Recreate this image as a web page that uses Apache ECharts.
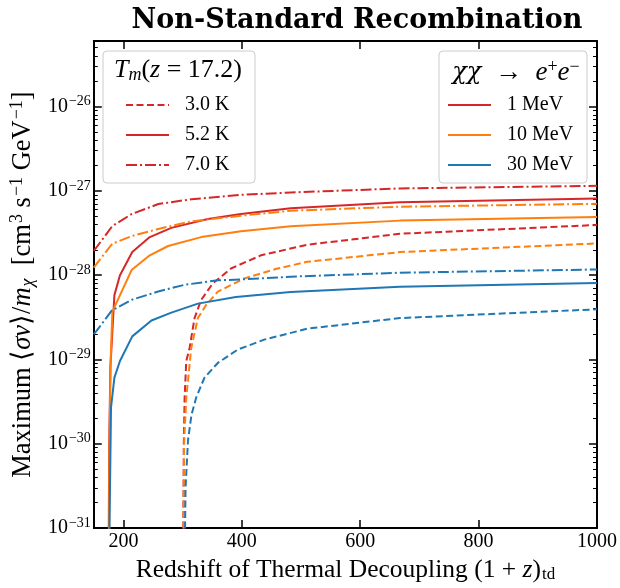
<!DOCTYPE html>
<html>
<head>
<meta charset="utf-8">
<script src="https://cdn.jsdelivr.net/npm/echarts@6/dist/echarts.min.js"></script>
<style>
  html, body { margin: 0; padding: 0; background: #ffffff; }
  #chart { width: 620px; height: 588px; }
</style>
</head>
<body>
<div id="chart"></div>
<script>
// Redshift of thermal decoupling (1+z)_td vs. maximum <sigma v>/m_chi for chi chi -> e+ e-
// Three DM masses (colour) x three gas temperatures T_m(z=17.2) (line style).

// ---- 1 MeV ----
const z_1MeV_3K  = [300.5, 302, 303.4, 306.2, 311.8, 320.2, 331.4, 351.1, 381.8, 432.2, 510.7, 667, 1000];
const sv_1MeV_3K = [1e-32, 1e-30, 3.5e-30, 9.6e-30, 1.37e-29, 3.1e-29, 5.1e-29, 8.0e-29, 1.2e-28, 1.72e-28, 2.3e-28, 3.1e-28, 3.94e-28];
const z_1MeV_5K  = [174.6, 176, 178, 184.8, 194.2, 215, 244.6, 281, 342.7, 398.6, 482.6, 667, 1000];
const sv_1MeV_5K = [1e-32, 1e-30, 8e-30, 5.8e-29, 1.0e-28, 1.88e-28, 2.83e-28, 3.64e-28, 4.65e-28, 5.32e-28, 6.21e-28, 7.31e-28, 8.14e-28];
const z_1MeV_7K  = [150, 155, 181, 214, 259, 315, 399, 483, 667, 1000];
const sv_1MeV_7K = [1.95e-28, 2.16e-28, 3.81e-28, 5.32e-28, 6.98e-28, 7.97e-28, 8.97e-28, 9.58e-28, 1.07e-27, 1.15e-27];

// ---- 10 MeV ----
const z_10MeV_3K  = [300.7, 302.5, 306.2, 314.6, 325.9, 339.8, 359.5, 404.2, 460.3, 510.7, 667, 1000];
const sv_10MeV_3K = [1e-32, 1e-30, 3.5e-30, 1.37e-29, 3.1e-29, 4.44e-29, 6.38e-29, 9.14e-29, 1.2e-28, 1.44e-28, 1.88e-28, 2.38e-28];
const z_10MeV_5K  = [175.2, 176.5, 178.5, 181.4, 213.8, 244.6, 275.5, 331.4, 398.6, 482.6, 667, 1000];
const sv_10MeV_5K = [1e-32, 1e-30, 1e-29, 3.7e-29, 1.15e-28, 1.72e-28, 2.22e-28, 2.83e-28, 3.33e-28, 3.81e-28, 4.44e-28, 4.91e-28];
const z_10MeV_7K  = [150, 155, 181, 214, 259, 315, 399, 483, 667, 1000];
const sv_10MeV_7K = [1.23e-28, 1.37e-28, 2.36e-28, 2.91e-28, 3.54e-28, 4.36e-28, 5.08e-28, 5.82e-28, 6.49e-28, 7.03e-28];

// ---- 30 MeV ----
const z_30MeV_3K  = [302.4, 305, 309.1, 315, 323, 337, 359.5, 393.1, 437.8, 510.7, 667, 1000];
const sv_30MeV_3K = [1e-32, 3e-31, 1.1e-30, 2.2e-30, 3.54e-30, 6.1e-30, 9.1e-30, 1.31e-29, 1.72e-29, 2.32e-29, 3.1e-29, 3.94e-29];
const z_30MeV_5K  = [174.7, 179.1, 184.8, 194.2, 215, 247.4, 281, 325.9, 390, 482.6, 667, 1000];
const sv_30MeV_5K = [1e-32, 2.7e-30, 6.1e-30, 9.6e-30, 1.88e-29, 2.9e-29, 3.6e-29, 4.6e-29, 5.5e-29, 6.3e-29, 7.3e-29, 8.1e-29];
const z_30MeV_7K  = [150, 155, 180.2, 213.8, 258.7, 303.4, 359.5, 398.6, 482.6, 667, 1000];
const sv_30MeV_7K = [2.0e-29, 2.2e-29, 3.8e-29, 5.1e-29, 6.4e-29, 7.7e-29, 8.7e-29, 8.9e-29, 9.6e-29, 1.07e-28, 1.17e-28];

// Axis ticks (the y axis is drawn in decades: exponent of 10)
const xTicks = [200, 400, 600, 800, 1000];
const yDecades = [-31, -30, -29, -28, -27, -26];
const Y_MIN = 1e-31, Y_MAX = 6e-26;

// Legend entries
const tempLabels = ['3.0 K', '5.2 K', '7.0 K'];
const massLabels = ['1 MeV', '10 MeV', '30 MeV'];

const RED = '#d62728', ORANGE = '#ff7f0e', BLUE = '#1f77b4';
const DASHED = [7, 3.5];
const DASHDOT = [11, 3, 2, 3];
const SERIF = 'Liberation Serif';

// Log-decade y scale: values are placed at log10(value) on a linear axis.
const lg = v => Math.log10(v);
const yMinor = [];
yDecades.forEach(e => {
  for (let k = 2; k <= 9; k++) {
    const v = k * Math.pow(10, e);
    if (v <= Y_MAX) yMinor.push(lg(v));
  }
});

const toPoints = (xs, ys) => xs.map((x, i) => [x, lg(ys[i])]);

function curve(name, xs, ys, color, type) {
  return {
    name, type: 'line', data: toPoints(xs, ys),
    xAxisIndex: 0, yAxisIndex: 0,
    symbol: 'none', clip: true, silent: true,
    lineStyle: { color, width: 2, type },
    itemStyle: { color }
  };
}
function legendOnly(name, color, type) {
  return {
    name, type: 'line', data: [], symbol: 'none',
    lineStyle: { color, width: 2, type }, itemStyle: { color }
  };
}

const series = [
  curve('1 MeV, 3.0 K', z_1MeV_3K, sv_1MeV_3K, RED, DASHED),
  curve('1 MeV, 5.2 K', z_1MeV_5K, sv_1MeV_5K, RED, 'solid'),
  curve('1 MeV, 7.0 K', z_1MeV_7K, sv_1MeV_7K, RED, DASHDOT),
  curve('10 MeV, 3.0 K', z_10MeV_3K, sv_10MeV_3K, ORANGE, DASHED),
  curve('10 MeV, 5.2 K', z_10MeV_5K, sv_10MeV_5K, ORANGE, 'solid'),
  curve('10 MeV, 7.0 K', z_10MeV_7K, sv_10MeV_7K, ORANGE, DASHDOT),
  curve('30 MeV, 3.0 K', z_30MeV_3K, sv_30MeV_3K, BLUE, DASHED),
  curve('30 MeV, 5.2 K', z_30MeV_5K, sv_30MeV_5K, BLUE, 'solid'),
  curve('30 MeV, 7.0 K', z_30MeV_7K, sv_30MeV_7K, BLUE, DASHDOT),
  legendOnly(tempLabels[0], RED, DASHED),
  legendOnly(tempLabels[1], RED, 'solid'),
  legendOnly(tempLabels[2], RED, DASHDOT),
  legendOnly(massLabels[0], RED, 'solid'),
  legendOnly(massLabels[1], ORANGE, 'solid'),
  legendOnly(massLabels[2], BLUE, 'solid')
];

const frameLine = { show: true, onZero: false, lineStyle: { color: '#000', width: 2 } };

function xAxisDef(position, showLabels) {
  return {
    type: 'value', min: 150, max: 1000, position,
    axisLine: frameLine,
    axisTick: { show: true, inside: true, length: 8, customValues: xTicks, lineStyle: { color: '#000', width: 1.5 } },
    axisLabel: showLabels ? {
      show: true, customValues: xTicks, margin: 4,
      formatter: v => String(v),
      color: '#000', fontFamily: SERIF, fontSize: 20
    } : { show: false },
    splitLine: { show: false }
  };
}
function yAxisDef(position, ticks, len, showLabels, showLine) {
  return {
    type: 'value', min: lg(Y_MIN), max: lg(Y_MAX), position,
    axisLine: showLine ? frameLine : { show: false },
    axisTick: { show: true, inside: true, length: len, customValues: ticks, lineStyle: { color: '#000', width: len > 5 ? 1.5 : 1 } },
    axisLabel: showLabels ? {
      show: true, customValues: yDecades, margin: 3,
      formatter: v => '{b|10}{s|\u2212' + Math.abs(Math.round(v)) + '}',
      rich: {
        b: { fontFamily: SERIF, fontSize: 20, color: '#000' },
        s: { fontFamily: SERIF, fontSize: 14, color: '#000', padding: [0, 0, 10, 1] }
      }
    } : { show: false },
    splitLine: { show: false }
  };
}

const xName = {
  name: '{n|Redshift of Thermal Decoupling (1 + }{i|z}{n|)}{sub|td}',
  nameLocation: 'middle', nameGap: 23,
  nameTextStyle: {
    rich: {
      n: { fontFamily: SERIF, fontSize: 25.5, color: '#000' },
      i: { fontFamily: SERIF, fontSize: 25.5, fontStyle: 'italic', color: '#000' },
      sub: { fontFamily: SERIF, fontSize: 17, color: '#000', padding: [9, 0, 0, 1] }
    }
  }
};
const yName = {
  name: '{n|Maximum \u27E8}{i|\u03C3v}{n|\u27E9/}{i|m}{sub|\u03C7}{n|  [cm}{sup|3}{n| s}{sup|\u22121}{n| GeV}{sup|\u22121}{n|]}',
  nameLocation: 'middle', nameGap: 54, nameRotate: 90,
  nameTextStyle: {
    rich: {
      n: { fontFamily: SERIF, fontSize: 26.5, color: '#000' },
      i: { fontFamily: SERIF, fontSize: 26.5, fontStyle: 'italic', color: '#000' },
      sub: { fontFamily: SERIF, fontSize: 18, fontStyle: 'italic', color: '#000', padding: [10, 0, 0, 1] },
      sup: { fontFamily: SERIF, fontSize: 18, color: '#000', padding: [0, 0, 12, 1] }
    }
  }
};

const legendText = { fontFamily: SERIF, fontSize: 20, color: '#000', padding: [0, 0, 0, 11] };
const legendCommon = {
  orient: 'vertical', padding: 0,
  itemWidth: 43, itemHeight: 14, itemGap: 10, selectedMode: false,
  itemStyle: { opacity: 0, borderWidth: 0 },
  textStyle: legendText, z: 10
};

const option = {
  animation: false,
  backgroundColor: '#ffffff',
  title: {
    text: 'Non-Standard Recombination',
    left: 352, top: 2, textAlign: 'center',
    textStyle: { fontFamily: 'DejaVu Serif', fontWeight: 'bold', fontSize: 27, color: '#000' }
  },
  grid: { left: 92, right: 22, top: 41, bottom: 56, containLabel: false },
  xAxis: [
    Object.assign(xAxisDef('bottom', true), xName),
    xAxisDef('top', false)
  ],
  yAxis: [
    Object.assign(yAxisDef('left', yDecades, 8, true, true), yName),
    yAxisDef('left', yMinor, 4, false, false),
    yAxisDef('right', yDecades, 8, false, true),
    yAxisDef('right', yMinor, 4, false, false)
  ],
  legend: [
    Object.assign({ data: tempLabels, left: 125, top: 95 }, legendCommon),
    Object.assign({ data: massLabels, left: 447, top: 95 }, legendCommon)
  ],
  graphic: [
    {
      type: 'rect', z: 5, silent: true,
      shape: { x: 103, y: 51, width: 152, height: 132, r: 4 },
      style: { fill: 'rgba(255,255,255,0.85)', stroke: '#cccccc', lineWidth: 1 }
    },
    {
      type: 'rect', z: 5, silent: true,
      shape: { x: 439, y: 51, width: 148, height: 132, r: 4 },
      style: { fill: 'rgba(255,255,255,0.85)', stroke: '#cccccc', lineWidth: 1 }
    },
    {
      type: 'text', z: 6, silent: true, x: 178, y: 70,
      style: {
        text: '{i|T}{sub|m}{n|(}{i|z}{n| = 17.2)}',
        align: 'center', verticalAlign: 'middle',
        rich: {
          n: { fontFamily: SERIF, fontSize: 26, fill: '#000' },
          i: { fontFamily: SERIF, fontSize: 26, fontStyle: 'italic', fill: '#000' },
          sub: { fontFamily: SERIF, fontSize: 18, fontStyle: 'italic', fill: '#000', padding: [10, 0, 0, 0] }
        }
      }
    },
    {
      type: 'text', z: 6, silent: true, x: 516, y: 73,
      style: {
        text: '{g|\u03C7\u03C7}{n|  \u2192  }{i|e}{sup|+}{i|e}{sup|\u2212}',
        align: 'center', verticalAlign: 'middle',
        rich: {
          n: { fontFamily: SERIF, fontSize: 27, fill: '#000' },
          g: { fontFamily: 'DejaVu Serif', fontSize: 24, fontStyle: 'italic', fill: '#000' },
          i: { fontFamily: SERIF, fontSize: 27, fontStyle: 'italic', fill: '#000' },
          sup: { fontFamily: SERIF, fontSize: 18, fill: '#000', padding: [0, 0, 12, 0] }
        }
      }
    }
  ],
  series
};

const chart = echarts.init(document.getElementById('chart'), null, { renderer: 'canvas' });
chart.setOption(option);
</script>
</body>
</html>
